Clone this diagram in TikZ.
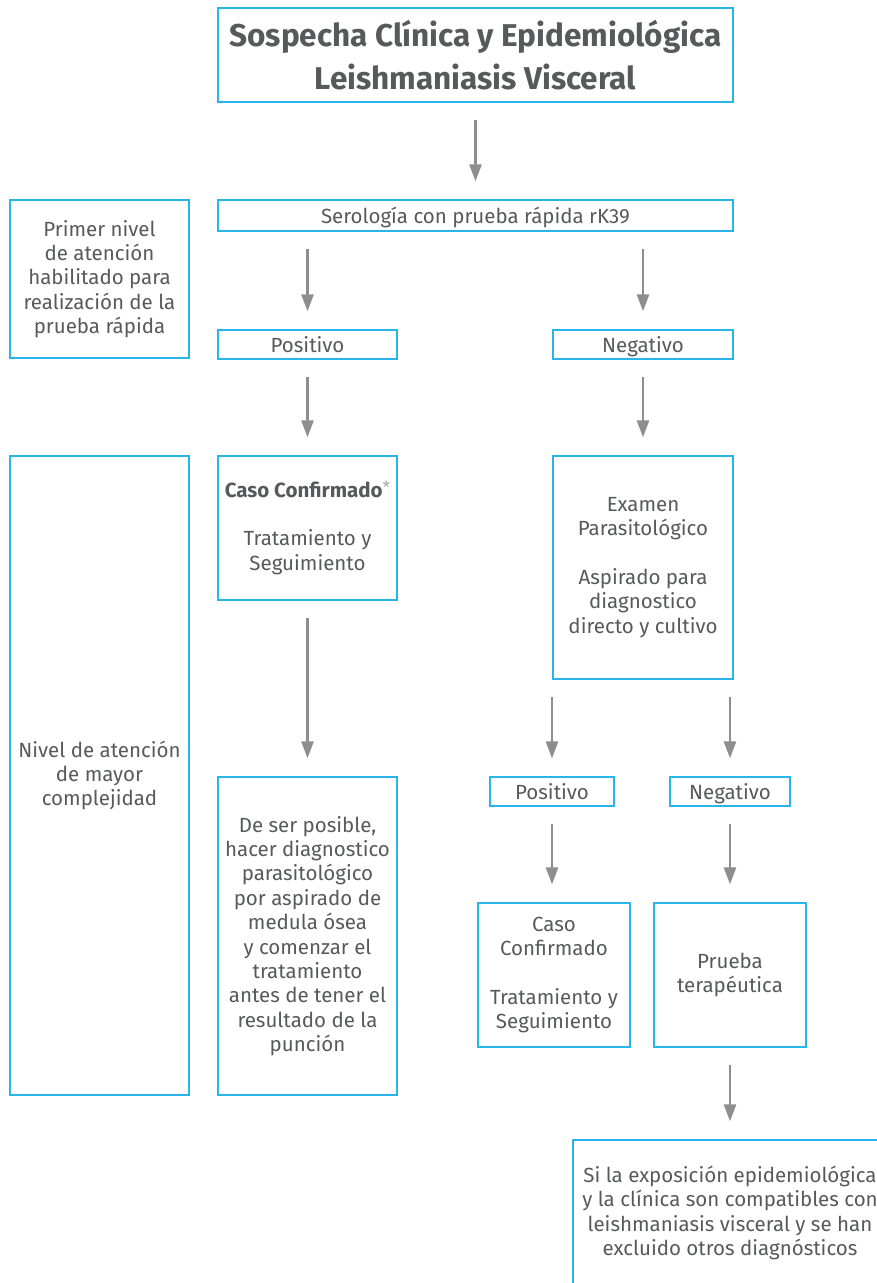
\documentclass[tikz,border=0pt]{standalone}
\usepackage{fontspec}
\setmainfont{Fira Sans}
\usetikzlibrary{arrows.meta}
\definecolor{boxblue}{HTML}{29B5EA}
\definecolor{txt}{HTML}{58595B}
\definecolor{arrgray}{HTML}{8E8E8E}
\definecolor{stargray}{HTML}{A3A9B0}
\tikzset{
  box/.style={draw=boxblue, line width=1.3pt, text=txt, align=center, inner sep=0pt,
    font=\fontsize{20.5}{24.4}\selectfont},
  oneline/.style={box, text height=17.5pt, text depth=2pt},
  flow/.style={draw=arrgray, line width=2.6pt,
    -{Triangle[length=17pt,width=12pt]}, shorten <=17pt, shorten >=18pt},
}
\begin{document}
\begin{tikzpicture}[x=1pt,y=-1pt]
\useasboundingbox (0,0) rectangle (877,1283);
\fill[white] (0,0) rectangle (877,1283);

% header
\node[box, minimum width=515, minimum height=94,
  font=\fontsize{31.5}{43}\selectfont\bfseries] (title) at (475.5,55)
  {Sospecha Clínica y Epidemiológica\\Leishmaniasis Visceral};

% first level of care
\node[oneline, minimum width=515, minimum height=31] (sero) at (475.5,215.5)
  {Serología con prueba rápida rK39};
\node[box, minimum width=179, minimum height=158] (nivel1) at (99.5,279)
  {Primer nivel\\de atención\\habilitado para\\realización de la\\prueba rápida};
\node[oneline, minimum width=179, minimum height=29] (pos1) at (307.5,344.5) {Positivo};
\node[oneline, minimum width=180, minimum height=29] (neg1) at (643,344.5) {Negativo};

% higher complexity level
\node[box, minimum width=179, minimum height=639] (nivel2) at (99.5,775.5)
  {Nivel de atención\\de mayor\\complejidad};
\node[box, minimum width=179, minimum height=144] (caso1) at (307.5,528)
  {\textbf{Caso Confirmado}\textcolor{stargray}{\raisebox{0.3ex}{\fontsize{17}{17}\selectfont *}}\\[24.4pt]Tratamiento y\\Seguimiento};
\node[box, minimum width=180, minimum height=223] (exam) at (643,567.5)
  {Examen\\Parasitológico\\[24.4pt]Aspirado para\\diagnostico\\directo y cultivo};
\node[box, minimum width=179, minimum height=318] (posible) at (307.5,936)
  {De ser posible,\\hacer diagnostico\\parasitológico\\por aspirado de\\medula ósea\\y comenzar el\\tratamiento\\antes de tener el\\resultado de la\\punción};
\node[oneline, minimum width=124, minimum height=29] (pos2) at (552,791.5) {Positivo};
\node[oneline, minimum width=120, minimum height=29] (neg2) at (730,791.5) {Negativo};
\node[box, minimum width=152, minimum height=144] (caso2) at (554,975)
  {Caso\\Confirmado\\[24.4pt]Tratamiento y\\Seguimiento};
\node[box, minimum width=152, minimum height=144] (prueba) at (730,975)
  {Prueba\\terapéutica};
\node[box, minimum width=314, minimum height=146] (final) at (730,1213)
  {Si la exposición epidemiológica\\y la clínica son compatibles con\\leishmaniasis visceral y se han\\excluido otros diagnósticos};

% connectors
\draw[flow] (title.south) -- (sero.north);
\draw[flow] (sero.south -| pos1.north) -- (pos1.north);
\draw[flow] (sero.south -| neg1.north) -- (neg1.north);
\draw[flow] (pos1.south) -- (caso1.north);
\draw[flow] (neg1.south) -- (exam.north);
\draw[flow] (caso1.south) -- (posible.north);
\draw[flow] (exam.south -| pos2.north) -- (pos2.north);
\draw[flow] (exam.south -| neg2.north) -- (neg2.north);
\draw[flow] (pos2.south) -- (pos2.south |- caso2.north);
\draw[flow] (neg2.south) -- (prueba.north);
\draw[flow] (prueba.south) -- (final.north);
\end{tikzpicture}
\end{document}
